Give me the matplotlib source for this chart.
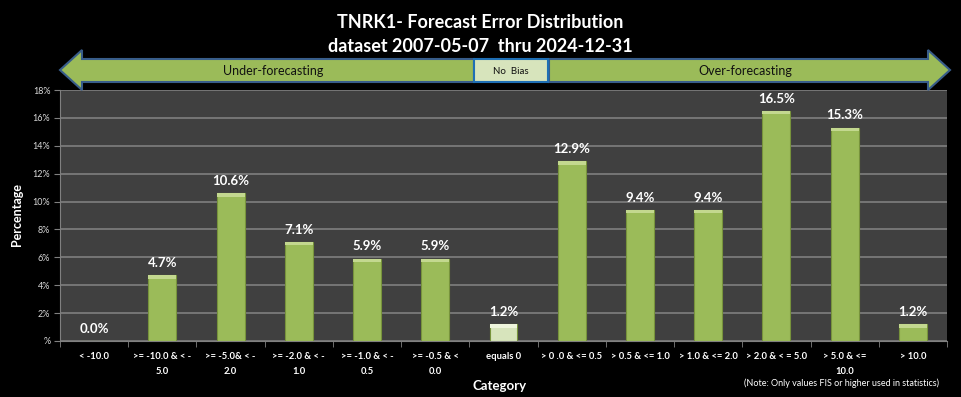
import numpy as np
import matplotlib
matplotlib.use("Agg")
import matplotlib.pyplot as plt
from matplotlib.patches import Polygon, Rectangle

plt.rcParams['font.family'] = ['Lato', 'DejaVu Sans']

# data
categories = ["< -10.0", ">= -10.0 & < -\n5.0", ">= -5.0& < -\n2.0", ">= -2.0 & < -\n1.0",
              ">= -1.0 & < -\n0.5", ">= -0.5 & <\n0.0", "equals 0", "> 0 .0 & <= 0.5",
              "> 0.5 & <= 1.0", "> 1.0 & <= 2.0", "> 2.0 & < = 5.0", "> 5.0 & <=\n10.0", "> 10.0"]
values = [0.0, 4.7, 10.6, 7.1, 5.9, 5.9, 1.2, 12.9, 9.4, 9.4, 16.5, 15.3, 1.2]
yticks = [0, 2, 4, 6, 8, 10, 12, 14, 16, 18]
ytick_labels = ["%"] + ["%d%%" % t for t in yticks[1:]]

W, H = 961, 397
fig = plt.figure(figsize=(W / 100, H / 100), dpi=100, facecolor='black')
ax = fig.add_axes([60 / W, 1 - 341 / H, 887 / W, 251 / H])
ax.set_facecolor('#404040')

x = np.arange(len(values))
colors = ['#d7e4bc' if c == "equals 0" else '#9bbb59' for c in categories]
ax.bar(x, values, width=0.41, color=colors, edgecolor='#77933c', linewidth=0.8, zorder=3)
# light bevel on top of each bar
tops = [max(v - 0.25, 0) for v in values]
caps = [min(v, 0.25) for v in values]
ax.bar(x, caps, bottom=tops, width=0.41,
       color=['#eef5dc' if c == "equals 0" else '#c3d88f' for c in categories],
       edgecolor='none', zorder=4)

for xi, v in zip(x, values):
    ax.text(xi, v + 0.45, "%.1f%%" % v, ha='center', va='bottom', color='white',
            fontsize=9.5, fontweight='bold', zorder=5)

ax.set_xlim(-0.5, len(values) - 0.5)
ax.set_ylim(0, 18)
ax.set_yticks(yticks)
ax.set_yticklabels(ytick_labels, color='#d9d9d9', fontsize=6.5)
ax.yaxis.grid(True, color='#7f7f7f', linewidth=1.2)
ax.set_axisbelow(True)
ax.set_xticks(x)
ax.set_xticklabels(categories, color='white', fontsize=6.8, fontweight='bold', linespacing=1.9)
ax.set_xticks(np.arange(len(values) + 1) - 0.5, minor=True)
ax.tick_params(axis='x', which='major', length=0, pad=8)
ax.tick_params(axis='x', which='minor', length=4, color='#808080')
ax.tick_params(axis='y', length=4, color='#808080', pad=3)
for s in ['top', 'right']:
    ax.spines[s].set_visible(False)
for s in ['left', 'bottom']:
    ax.spines[s].set_color('#808080')

fig.text(17 / W, 1 - 215 / H, "Percentage", color='white', fontsize=9, fontweight='bold',
         rotation=90, ha='center', va='center')
fig.text(500 / W, 1 - 386 / H, "Category", color='white', fontsize=9.5, fontweight='bold',
         ha='center', va='center')
fig.text(939 / W, 1 - 383 / H, "(Note: Only values FIS or higher used in statistics)",
         color='white', fontsize=6.5, ha='right', va='center')

fig.text(480 / W, 1 - 22 / H, "TNRK1- Forecast Error Distribution", color='white',
         fontsize=13, fontweight='bold', ha='center', va='center')
fig.text(480 / W, 1 - 46 / H, "dataset 2007-05-07  thru 2024-12-31", color='white',
         fontsize=13, fontweight='bold', ha='center', va='center')

# bias arrows overlay in pixel coordinates
ov = fig.add_axes([0, 0, 1, 1], facecolor='none')
ov.set_xlim(0, W)
ov.set_ylim(H, 0)
ov.axis('off')
left_arrow = [(60, 70), (82, 50), (82, 59), (474, 59), (474, 82), (82, 82), (82, 90)]
right_arrow = [(950, 70), (928, 50), (928, 59), (549, 59), (549, 82), (928, 82), (928, 90)]
for pts in (left_arrow, right_arrow):
    ov.add_patch(Polygon(pts, closed=True, facecolor='#9bbb59', edgecolor='#385d8a', linewidth=1.5))
ov.add_patch(Rectangle((474, 59), 74, 23, facecolor='#d7e4bc', edgecolor='#1f6fb4', linewidth=1.5))
ov.text(273, 71, "Under-forecasting", ha='center', va='center', fontsize=9, color='#111111')
ov.text(745, 71, "Over-forecasting", ha='center', va='center', fontsize=9, color='#111111')
ov.text(511, 71, "No  Bias", ha='center', va='center', fontsize=7, color='#111111')

fig.savefig("out.png", dpi=100, facecolor='black')
